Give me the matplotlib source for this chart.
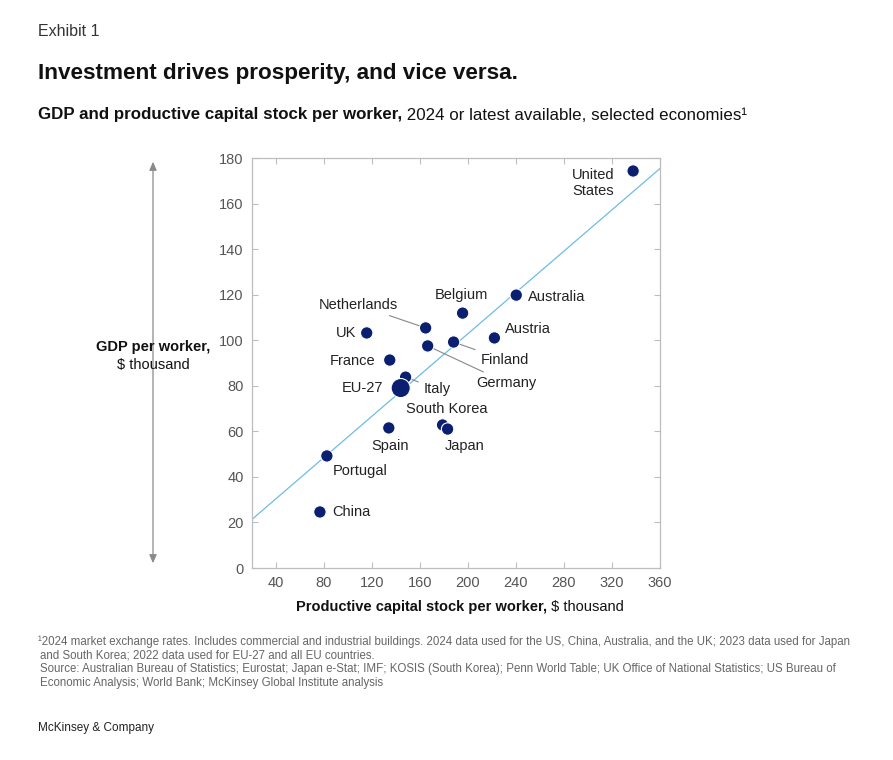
import matplotlib
matplotlib.use("Agg")
import matplotlib.pyplot as plt
from matplotlib.patches import FancyArrowPatch

plt.rcParams['font.family'] = ['Liberation Sans', 'DejaVu Sans']

# ---- data ----
countries = ["United States", "Australia", "Belgium", "Netherlands", "UK", "Austria",
             "Finland", "Germany", "France", "Italy", "EU-27", "South Korea", "Japan",
             "Spain", "Portugal", "China"]
capital = [337.6, 240.2, 195.5, 164.7, 115.6, 222.0, 188.0, 166.4, 134.8, 148.0,
           143.9, 178.8, 183.0, 134.0, 82.4, 76.6]
gdp = [174.3, 119.8, 111.9, 105.4, 103.2, 101.0, 99.2, 97.5, 91.3, 83.8,
       79.0, 62.8, 61.0, 61.5, 49.2, 24.6]
trend_intercept = 12.3
trend_slope = 0.453
x_ticks = [40, 80, 120, 160, 200, 240, 280, 320, 360]
y_ticks = [0, 20, 40, 60, 80, 100, 120, 140, 160, 180]

W, H = 893, 760
fig = plt.figure(figsize=(W / 100, H / 100), dpi=100)
fig.patch.set_facecolor('white')

def fx(px):
    return px / W

def fy(py):
    return 1 - py / H

ax = fig.add_axes([fx(252), fy(568), fx(660) - fx(252), fy(158) - fy(568)])
ax.set_xlim(20, 360)
ax.set_ylim(0, 180)

navy = '#0b1f70'
line_blue = '#6cbde3'
gray_spine = '#bdbdbd'
tick_gray = '#555555'
text_dark = '#222222'

# trend line
xl = [20, 360]
ax.plot(xl, [trend_intercept + trend_slope * v for v in xl], color=line_blue, lw=0.9, zorder=1)

# points
sizes = [190 if c == "EU-27" else 80 for c in countries]
ax.scatter(capital, gdp, s=sizes, color=navy, edgecolors='white', linewidths=0.8, zorder=3)

# label offsets in pixels: (dx, dy, ha, leader)
label_cfg = {
    "United States": (-19, -12, 'right', False),
    "Australia": (12, -2, 'left', False),
    "Belgium": (-1, 18, 'center', False),
    "Netherlands": (-28, 23, 'right', True),
    "UK": (-10, 0, 'right', False),
    "Austria": (11, 9, 'left', False),
    "Finland": (27, -18, 'left', True),
    "Germany": (49, -37, 'left', True),
    "France": (-14, -1, 'right', False),
    "Italy": (18, -12, 'left', True),
    "EU-27": (-17, 0, 'right', False),
    "South Korea": (4, 16, 'center', False),
    "Japan": (17, -17, 'center', False),
    "Spain": (1, -18, 'center', False),
    "Portugal": (6, -15, 'left', False),
    "China": (12, 0, 'left', False),
}

for c, x, y in zip(countries, capital, gdp):
    dx, dy, ha, leader = label_cfg[c]
    txt = "United\nStates" if c == "United States" else c
    kw = {}
    if leader:
        kw['arrowprops'] = dict(arrowstyle='-', color='#888888', lw=0.8,
                                shrinkA=2, shrinkB=5)
    ax.annotate(txt, xy=(x, y), xytext=(dx, dy), textcoords='offset pixels',
                ha=ha, va='center', fontsize=10.5, color=text_dark,
                multialignment='center', zorder=4, **kw)

ax.set_xticks(x_ticks)
ax.set_yticks(y_ticks)
ax.tick_params(axis='both', which='both', direction='in', length=4, width=0.8,
               color=gray_spine, labelcolor=tick_gray, labelsize=10.5,
               top=True, right=True, pad=6)
for s in ax.spines.values():
    s.set_color(gray_spine)
    s.set_linewidth(0.9)

# titles
fig.text(fx(38), fy(31), "Exhibit 1", fontsize=11.5, color='#333333', va='center', ha='left')
fig.text(fx(38), fy(73), "Investment drives prosperity, and vice versa.", fontsize=16.2,
         fontweight='bold', color='#111111', va='center', ha='left')
t1 = fig.text(fx(38), fy(115), "GDP and productive capital stock per worker,", fontsize=12.2,
              fontweight='bold', color='#111111', va='center', ha='left')
ax.annotate(" 2024 or latest available, selected economies\u00b9", xy=(1, 0.5),
            xycoords=t1, va='center', ha='left', fontsize=12.2, color='#111111',
            annotation_clip=False)

# y label
fig.text(fx(153), fy(347), "GDP per worker,", fontsize=10.5, fontweight='bold',
         color='#111111', ha='center', va='center')
fig.text(fx(153), fy(365), "$ thousand", fontsize=10.5, color='#111111',
         ha='center', va='center')
arrow = FancyArrowPatch((fx(153), fy(566)), (fx(153), fy(159)), transform=fig.transFigure,
                        arrowstyle='<|-|>,head_length=5,head_width=2.2', color='#8a8a8a',
                        lw=0.9, mutation_scale=1)
fig.add_artist(arrow)

# x label
t2 = fig.text(fx(296), fy(607), "Productive capital stock per worker,", fontsize=10.5,
              fontweight='bold', color='#111111', ha='left', va='center')
ax.annotate(" $ thousand", xy=(1, 0.5), xycoords=t2, va='center', ha='left',
            fontsize=10.5, color='#111111', annotation_clip=False)

# footnotes
foot = [
    (38, 642, "\u00b92024 market exchange rates. Includes commercial and industrial buildings. 2024 data used for the US, China, Australia, and the UK; 2023 data used for Japan"),
    (40, 656, "and South Korea; 2022 data used for EU-27 and all EU countries."),
    (40, 669, "Source: Australian Bureau of Statistics; Eurostat; Japan e-Stat; IMF; KOSIS (South Korea); Penn World Table; UK Office of National Statistics; US Bureau of"),
    (40, 683, "Economic Analysis; World Bank; McKinsey Global Institute analysis"),
]
for x, y, s in foot:
    fig.text(fx(x), fy(y), s, fontsize=8.3, color='#666666', ha='left', va='center')

fig.text(fx(38), fy(728), "McKinsey & Company", fontsize=8.5, color='#222222',
         ha='left', va='center')

fig.savefig("out.png", dpi=100, facecolor='white')
